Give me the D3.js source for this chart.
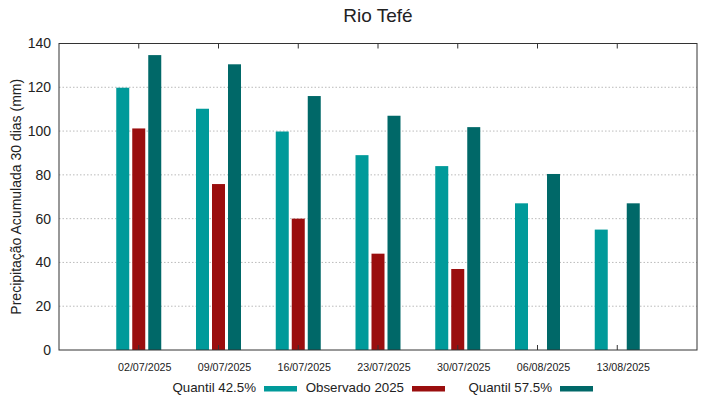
<!DOCTYPE html>
<html>
<head>
<meta charset="utf-8">
<script src="https://cdn.jsdelivr.net/npm/d3@7"></script>
<style>
  body { margin: 0; background: #fff; }
  text { font-family: "Liberation Sans", Arial, sans-serif; fill: #222; }
</style>
</head>
<body>
<div id="chart"></div>
<script>
// data
const dates = ['02/07/2025', '09/07/2025', '16/07/2025', '23/07/2025', '30/07/2025', '06/08/2025', '13/08/2025'];
const quantil425 = [119.8, 110.2, 99.8, 89, 84, 67, 55];
const observado = [101.2, 75.8, 60, 44, 37, null, null];
const quantil575 = [134.7, 130.5, 116, 107, 101.8, 80.4, 67];
const yTicks = [0, 20, 40, 60, 80, 100, 120, 140];

const series = [
  { name: 'Quantil 42.5%', values: quantil425, color: '#009a9a', off: -1 },
  { name: 'Observado 2025', values: observado, color: '#9a0e0e', off: 0 },
  { name: 'Quantil 57.5%', values: quantil575, color: '#006868', off: 1 }
];

const width = 719, height = 399;
const margin = { top: 43.5, right: 22, bottom: 49, left: 59 };
const iw = width - margin.left - margin.right;
const ih = height - margin.top - margin.bottom;

const svg = d3.select('#chart').append('svg')
  .attr('width', width).attr('height', height);

const g = svg.append('g').attr('transform', `translate(${margin.left},${margin.top})`);

const x = d3.scaleLinear().domain([-1, dates.length]).range([0, iw]);
const y = d3.scaleLinear().domain([0, 140]).range([ih, 0]);

// grid
g.selectAll('.grid').data(yTicks.filter(d => d > 0 && d < 140)).enter()
  .append('line')
  .attr('x1', 0).attr('x2', iw)
  .attr('y1', d => y(d)).attr('y2', d => y(d))
  .attr('stroke', '#aaa').attr('stroke-width', 0.8)
  .attr('stroke-dasharray', '1.5,2');

// y labels
g.selectAll('.ylab').data(yTicks).enter()
  .append('text')
  .attr('x', -8).attr('y', d => y(d)).attr('dy', '0.35em')
  .attr('text-anchor', 'end').style('font-size', '14px')
  .text(d => d);

const barW = 13, step = 16;

series.forEach(s => {
  g.selectAll(null).data(s.values.map((v, i) => ({ v, i })).filter(d => d.v != null))
    .enter().append('rect')
    .attr('x', d => x(d.i) + s.off * step - barW / 2)
    .attr('y', d => y(d.v))
    .attr('width', barW)
    .attr('height', d => ih - y(d.v))
    .attr('fill', s.color);
});

// category ticks top and bottom (labels sit a bit right of the tick, like the original)
dates.forEach((d, i) => {
  g.append('line').attr('x1', x(i)).attr('x2', x(i)).attr('y1', 0).attr('y2', 5)
    .attr('stroke', '#333');
  g.append('line').attr('x1', x(i)).attr('x2', x(i)).attr('y1', ih).attr('y2', ih - 5)
    .attr('stroke', '#333');
  g.append('text').attr('x', x(i) + 6).attr('y', ih + 21)
    .attr('text-anchor', 'middle').style('font-size', '10.7px').text(d);
});

// frame
g.append('rect').attr('width', iw).attr('height', ih)
  .attr('fill', 'none').attr('stroke', '#333').attr('stroke-width', 1);

// title
svg.append('text').attr('x', margin.left + iw / 2).attr('y', 22)
  .attr('text-anchor', 'middle').style('font-size', '19px').text('Rio Tefé');

// y axis title
svg.append('text')
  .attr('transform', `translate(21,${margin.top + ih / 2}) rotate(-90)`)
  .attr('text-anchor', 'middle').style('font-size', '14px')
  .text('Precipitação Acumulada 30 dias (mm)');

// legend
const legX = [256, 404, 552];
const leg = svg.append('g');
series.forEach((s, i) => {
  leg.append('text').attr('x', legX[i]).attr('y', 392)
    .attr('text-anchor', 'end').style('font-size', '13.3px').text(s.name);
  leg.append('rect').attr('x', legX[i] + 8).attr('y', 386)
    .attr('width', 33).attr('height', 5.5).attr('fill', s.color);
});
</script>
</body>
</html>
